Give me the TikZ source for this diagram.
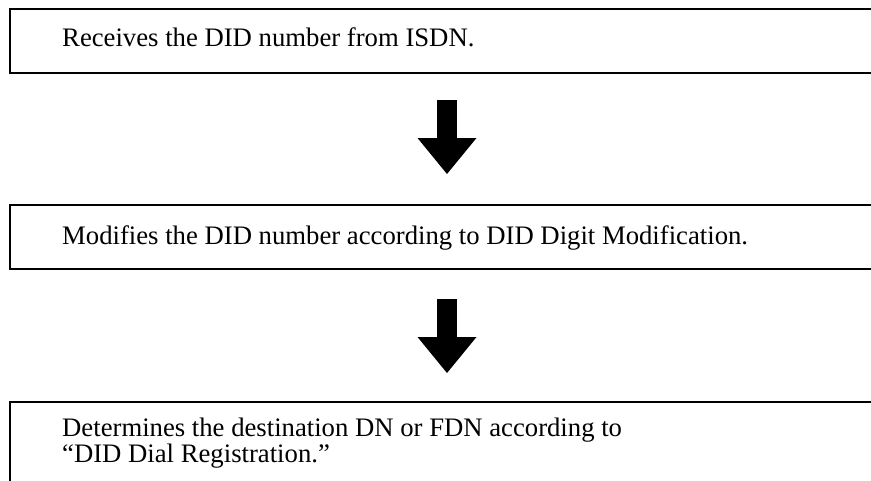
\documentclass[tikz,border=0pt]{standalone}
\usepackage{fontspec}
\setmainfont{Liberation Serif}
\usetikzlibrary{arrows.meta,calc}
\begin{document}
\begin{tikzpicture}[x=1pt,y=-1pt,
  stepbox/.style={draw=black, line width=2pt, anchor=north west, inner sep=0pt, minimum width=900pt},
  steptext/.style={anchor=base west, inner sep=0pt, font=\fontsize{26.7pt}{26pt}\selectfont, align=left},
  bigarrow/.style={line width=20pt, -{Triangle[width=59pt,length=36pt,line width=0pt]}}]
\useasboundingbox (0,0) rectangle (871,480);
\clip (0,0) rectangle (871,480);
\node[stepbox, minimum height=64pt] (b1) at (9,8) {};
\node[stepbox, minimum height=64pt] (b2) at (9,204) {};
\node[stepbox, minimum height=120pt] (b3) at (9,401) {};
\node[steptext] (t1) at (62,46) {Receives the DID number from ISDN.};
\node[steptext] (t2) at (62,244) {Modifies the DID number according to DID Digit Modification.};
\node[steptext] (t3a) at (62,436) {Determines the destination DN or FDN according to};
\node[steptext] (t3b) at (62,462) {``DID Dial Registration.''};
\coordinate (ax) at (447,0);
\draw[bigarrow] ($(ax |- b1.south)+(0,26)$) -- ($(ax |- b2.north)+(0,-30)$);
\draw[bigarrow] ($(ax |- b2.south)+(0,29)$) -- ($(ax |- b3.north)+(0,-28)$);
\end{tikzpicture}
\end{document}
